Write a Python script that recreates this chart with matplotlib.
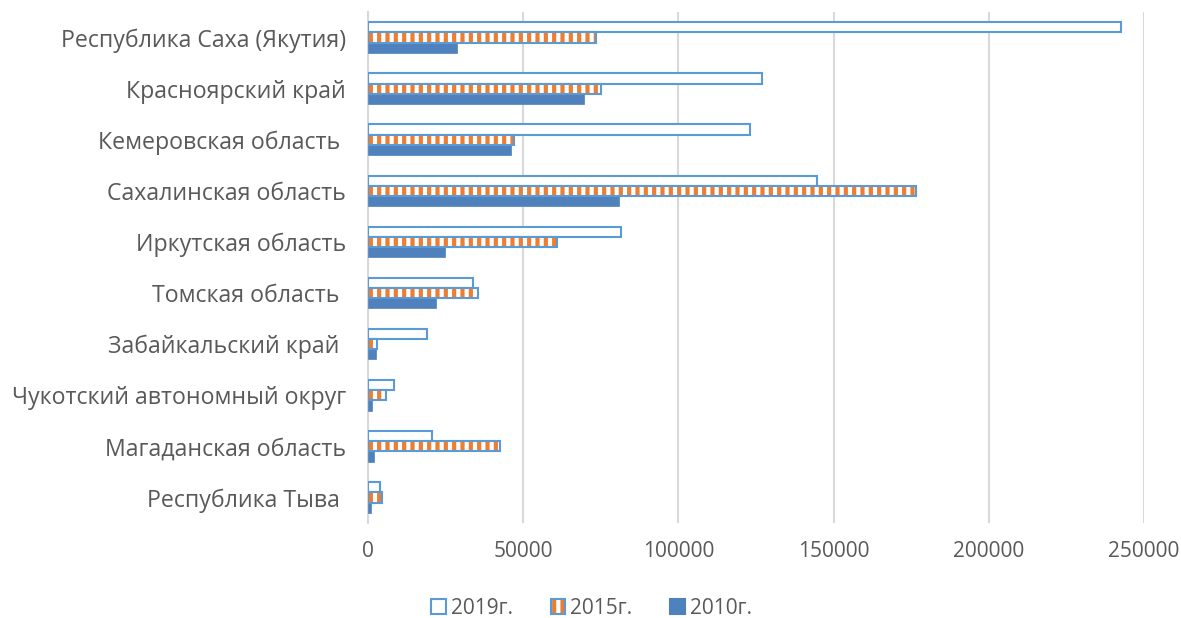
import matplotlib
matplotlib.use("Agg")
import matplotlib.pyplot as plt
import numpy as np
from matplotlib.patches import Patch
from matplotlib.legend_handler import HandlerBase
from matplotlib.patches import Rectangle

categories = ["Республика Саха (Якутия)", "Красноярский край", "Кемеровская область ",
              "Сахалинская область", "Иркутская область", "Томская область ",
              "Забайкальский край ", "Чукотский автономный округ", "Магаданская область",
              "Республика Тыва "]
v2019 = [242600, 127000, 123000, 144500, 81600, 33900, 19000, 8500, 20700, 3900]
v2015 = [73500, 75200, 47000, 176500, 60900, 35500, 3000, 5700, 42400, 4500]
v2010 = [28700, 69700, 46000, 81000, 24700, 22000, 2700, 1400, 1900, 1000]
series_names = ["2019г.", "2015г.", "2010г."]
xticks = [0, 50000, 100000, 150000, 200000, 250000]

EDGE = "#5B9BD5"
SOLID = "#4F81BD"
ORANGE = "#ED7D31"
TXT = "#595959"

plt.rcParams['font.family'] = ['Open Sans', 'DejaVu Sans']
plt.rcParams['hatch.linewidth'] = 3.0

fig = plt.figure(figsize=(11.81, 6.18), dpi=100)
ax = fig.add_axes([368/1181, 1-523/618, (1144-368)/1181, (523-12)/618])

n = len(categories)
y = np.arange(n)
h = 0.2

ax.barh(y - h, v2019, height=h, color="white", edgecolor=EDGE, linewidth=1.5, zorder=3)
ax.barh(y, v2015, height=h, color="white", edgecolor=ORANGE, hatch="||", linewidth=0, zorder=3)
ax.barh(y, v2015, height=h, color="none", edgecolor=EDGE, linewidth=1.5, zorder=4)
ax.barh(y + h, v2010, height=h, color=SOLID, edgecolor=SOLID, linewidth=0.5, zorder=3)

ax.set_ylim(n - 0.5, -0.5)
ax.set_xlim(0, 250000)
ax.set_xticks(xticks)
ax.set_xticklabels([str(t) for t in xticks])
ax.set_yticks(y)
ax.set_yticklabels(categories)
ax.tick_params(axis='y', length=0, pad=16, labelsize=16.7, labelcolor=TXT)
ax.tick_params(axis='x', length=0, pad=13, labelsize=15, labelcolor=TXT)
ax.grid(axis='x', color="#D9D9D9", linewidth=1.5, zorder=0)
ax.set_axisbelow(True)
for s in ["top", "right", "bottom"]:
    ax.spines[s].set_visible(False)
ax.spines["left"].set_color("#D9D9D9")
ax.spines["left"].set_linewidth(1.5)

class HatchHandler(HandlerBase):
    def create_artists(self, legend, orig_handle, xdescent, ydescent, width, height, fontsize, trans):
        s = height * 1.0
        x0 = xdescent + width - s
        r1 = Rectangle((x0, -ydescent + (height - s) / 2), s, s, facecolor="white",
                       edgecolor=ORANGE, hatch="||", linewidth=0, transform=trans)
        r2 = Rectangle((x0, -ydescent + (height - s) / 2), s, s, facecolor="none",
                       edgecolor=EDGE, linewidth=1.5, transform=trans)
        return [r1, r2]

class SqHandler(HandlerBase):
    def __init__(self, fc, ec):
        super().__init__()
        self.fc, self.ec = fc, ec
    def create_artists(self, legend, orig_handle, xdescent, ydescent, width, height, fontsize, trans):
        s = height * 1.0
        x0 = xdescent + width - s
        r = Rectangle((x0, -ydescent + (height - s) / 2), s, s, facecolor=self.fc,
                      edgecolor=self.ec, linewidth=1.5, transform=trans)
        return [r]

h1 = Patch(label=series_names[0])
h2 = Patch(label=series_names[1])
h3 = Patch(label=series_names[2])
leg = fig.legend([h1, h2, h3], series_names, loc="center", bbox_to_anchor=(0.5, 1 - 608/618),
                 ncol=3, frameon=False, fontsize=15, handlelength=0.8, handletextpad=0.25,
                 columnspacing=1.7,
                 handler_map={h1: SqHandler("white", EDGE), h2: HatchHandler(),
                              h3: SqHandler(SOLID, SOLID)})
for t in leg.get_texts():
    t.set_color(TXT)

fig.savefig("out.png", dpi=100)
